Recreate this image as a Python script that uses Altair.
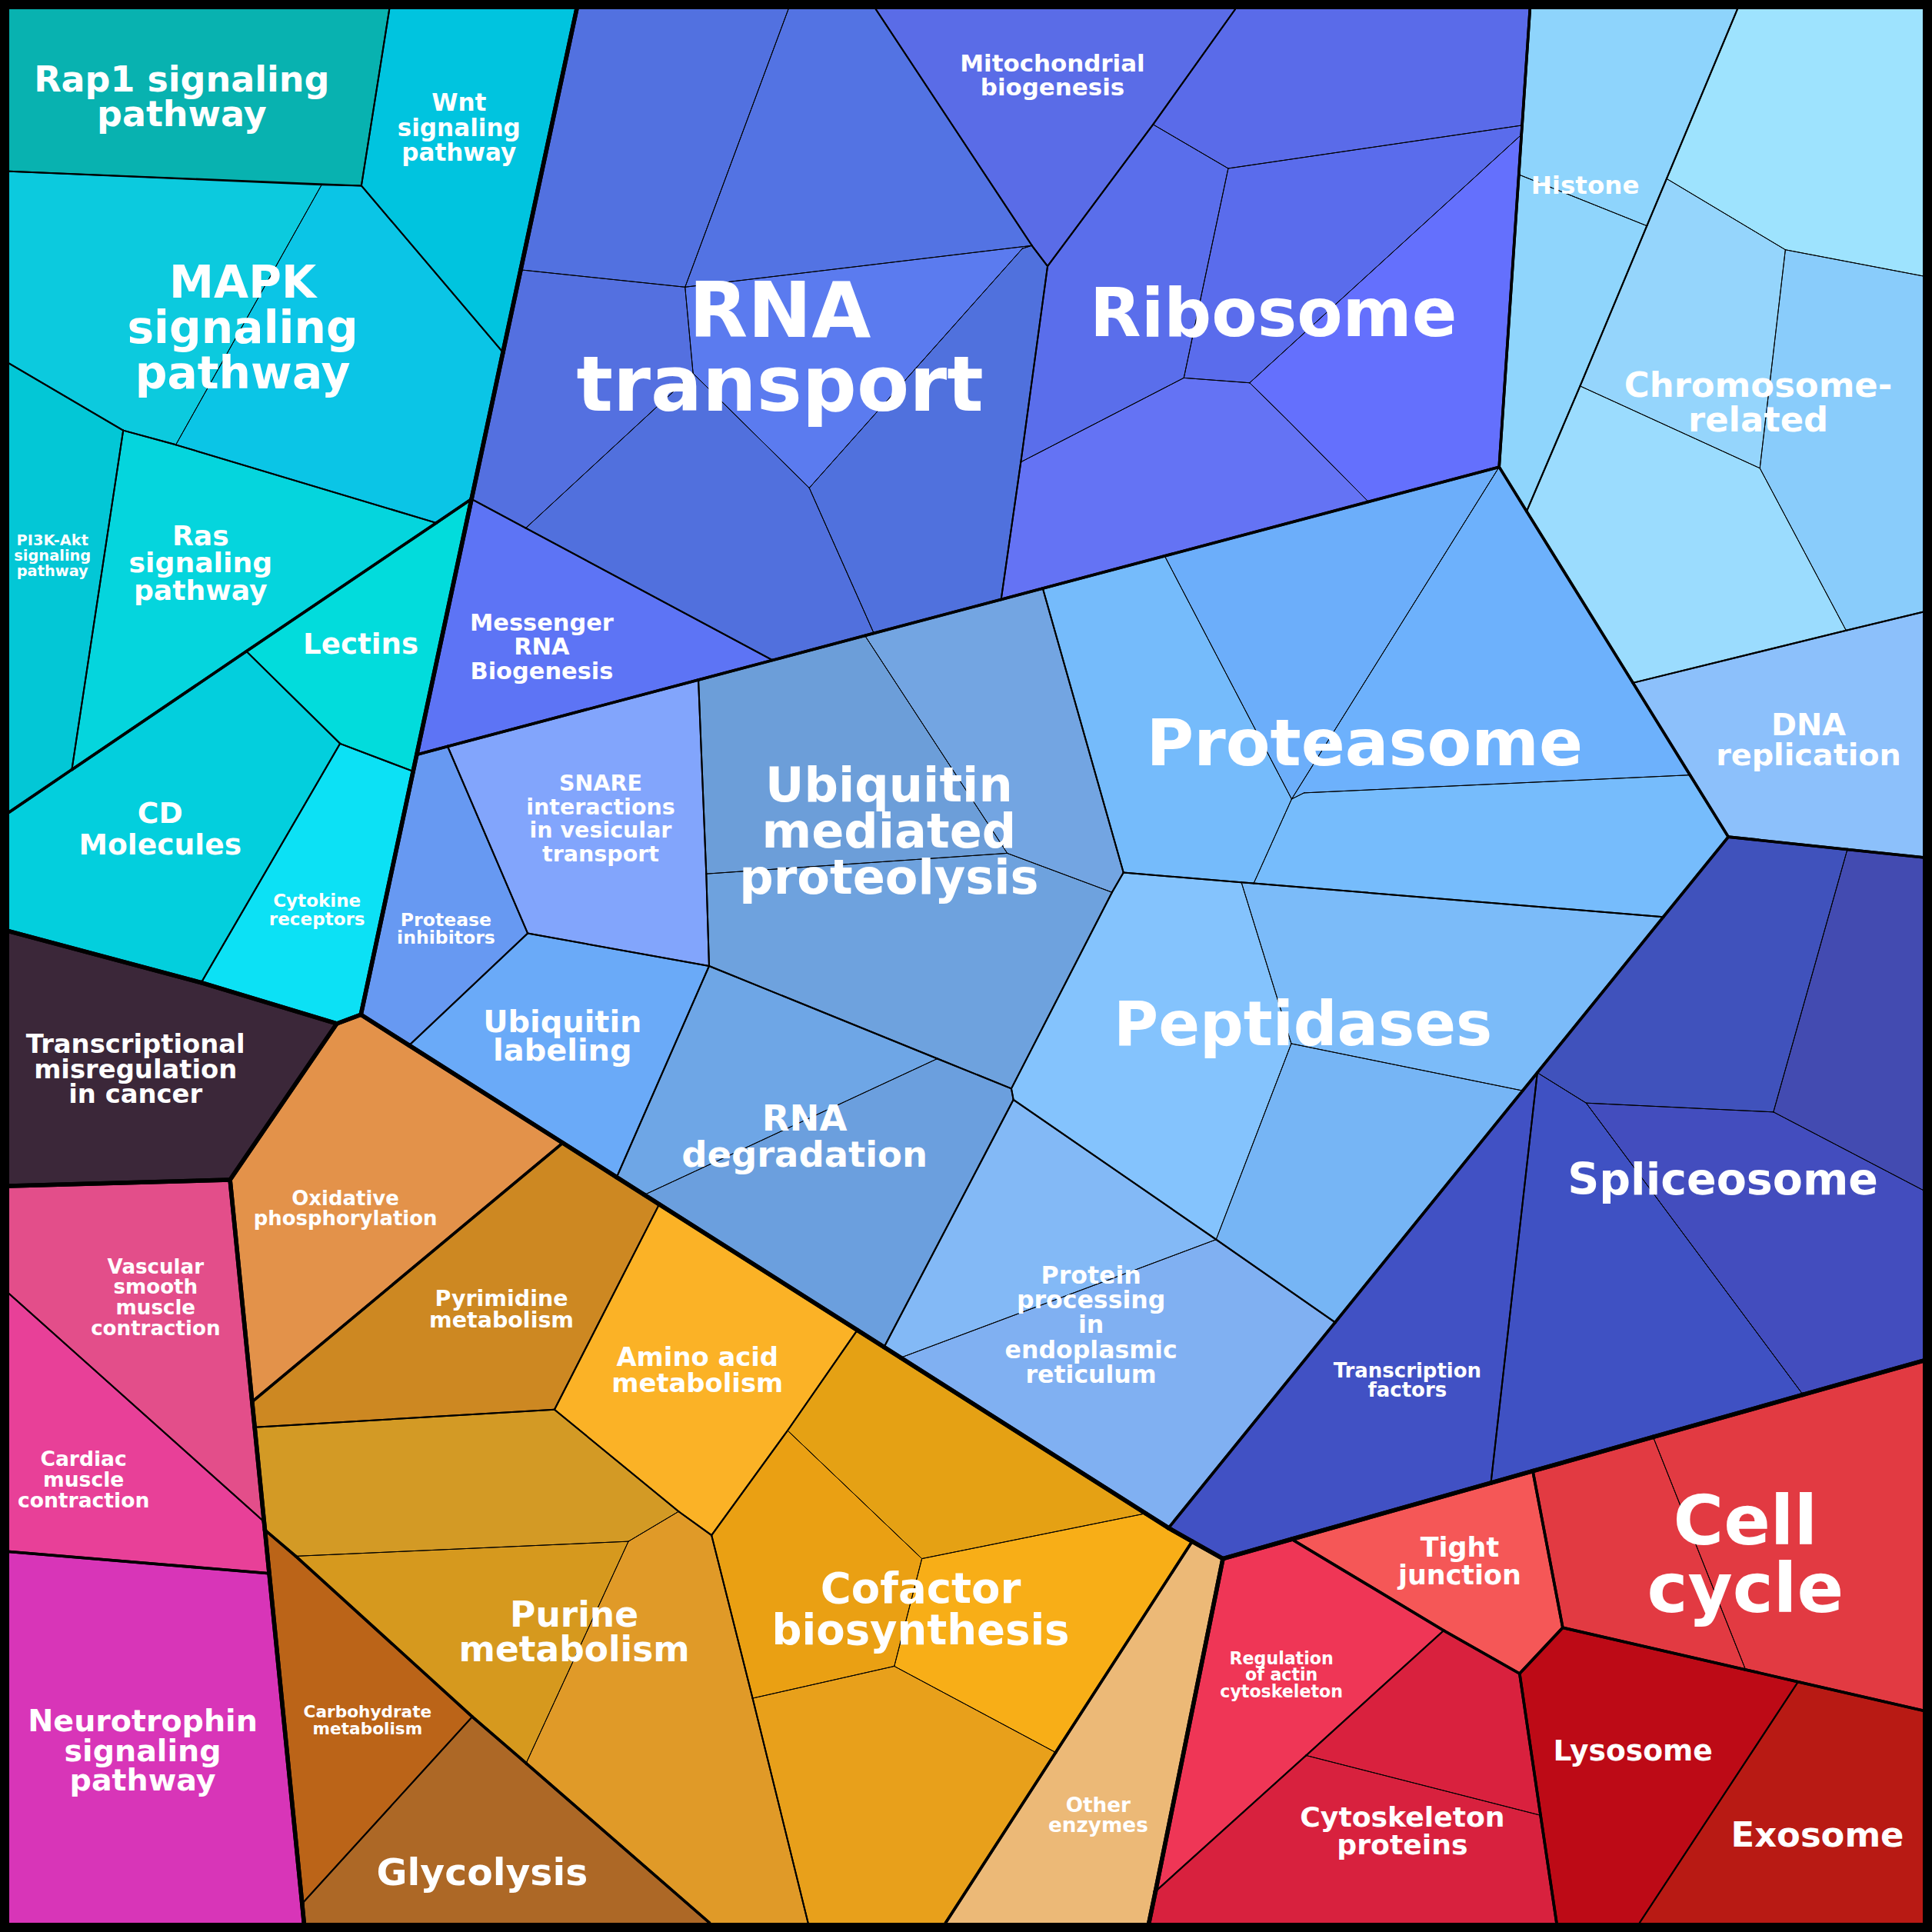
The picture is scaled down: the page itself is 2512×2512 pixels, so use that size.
import math
import altair as alt

SCALE = 2512 / 1568  # drawing units -> screen pixels

# ---------------- hierarchy (top group -> sub group -> pathways) ----------------
HIERARCHY = {
    "Signaling": {
        "Signal transduction": ["Rap1 signaling pathway", "Wnt signaling pathway", "MAPK signaling pathway",
                                "Ras signaling pathway", "PI3K-Akt signaling pathway"],
        "Cell surface": ["Lectins", "CD Molecules", "Cytokine receptors"],
    },
    "Cancer": {"Cancer": ["Transcriptional misregulation in cancer"]},
    "Muscle & neuro": {
        "Muscle": ["Vascular smooth muscle contraction", "Cardiac muscle contraction"],
        "Neuro": ["Neurotrophin signaling pathway"],
    },
    "Metabolism": {
        "Energy": ["Oxidative phosphorylation"],
        "Biosynthesis": ["Pyrimidine metabolism", "Purine metabolism", "Amino acid metabolism",
                         "Cofactor biosynthesis"],
        "Carbohydrates": ["Carbohydrate metabolism", "Glycolysis"],
        "Enzymes": ["Other enzymes"],
    },
    "Genetic information": {
        "Translation": ["RNA transport", "Ribosome", "Mitochondrial biogenesis", "Messenger RNA Biogenesis"],
        "Folding & degradation": ["SNARE interactions in vesicular transport", "Protease inhibitors",
                                  "Ubiquitin labeling", "Ubiquitin mediated proteolysis", "RNA degradation",
                                  "Proteasome", "Peptidases", "Protein processing in endoplasmic reticulum"],
        "Replication": ["Histone", "Chromosome-related", "DNA replication"],
        "Transcription": ["Spliceosome", "Transcription factors"],
    },
    "Cellular processes": {
        "Junction": ["Tight junction"],
        "Cycle": ["Cell cycle"],
        "Vesicles": ["Lysosome", "Exosome"],
        "Cytoskeleton": ["Regulation of actin cytoskeleton", "Cytoskeleton proteins"],
    },
}

# ---------------- cell vertices (drawing units) ----------------
PTS = {
    "TL": (7.5, 7.5), "TR": (1560.5, 7.5), "BL": (7.5, 1560.5), "BR": (1560.5, 1560.5),
    "c1": (316, 7.5), "c2": (468, 7.5), "c3": (293.3, 150.7), "c4": (7.5, 139), "c5": (261, 150),
    "c6": (408.2, 286), "c7": (382.7, 405), "c8": (354, 424.4), "c9": (142.7, 361), "c10": (100, 349.3),
    "c11": (7.5, 295), "c12": (200, 528.6), "c13": (58.3, 624.6), "c14": (7.5, 659.2), "c15": (276, 603.5),
    "c16": (335.3, 626), "c17": (292.9, 823.5), "c18": (273.3, 830.8), "c19": (163.3, 797.5),
    "c20": (7.5, 755.8),
    "d1": (186.7, 957.5), "d2": (7.5, 962.5),
    "m1": (7.5, 1050), "m2": (214.3, 1235), "m3": (218.5, 1277), "m4": (7.5, 1259.3), "m5": (246.7, 1560.5),
    "o1": (456.7, 927.6), "o2": (204.6, 1137.7), "o3": (535, 977.4), "o4": (450, 1144), "o5": (206.7, 1158.3),
    "o6": (695.8, 1079.5), "o7": (639.2, 1161), "o8": (577.5, 1246), "o9": (550.8, 1226.7), "o10": (510, 1251),
    "o11": (240, 1263), "o12": (215, 1241.7), "o13": (383.3, 1393.3), "o14": (427, 1431),
    "o15": (575.8, 1560.5), "o16": (655.8, 1560.5), "o17": (610.8, 1378.3), "o18": (245.2, 1545),
    "o19": (929.8, 1228.3), "o20": (748.2, 1265), "o21": (725.8, 1352.3), "o22": (856.8, 1422.3),
    "o23": (767.5, 1560.5), "o24": (948.4, 1240.1), "o25": (967.5, 1251), "o26": (992.5, 1265),
    "o27": (937.8, 1535), "o28": (932.5, 1560.5),
    "q1": (332, 848.4), "q2": (500.5, 955.4), "q3": (523, 969.7), "q4": (717.5, 1093.3), "q5": (731, 1101.9),
    "b1": (639.8, 7.5), "b2": (710.8, 7.5), "b3": (1002.5, 7.5), "b4": (1241.7, 7.5), "b5": (422.6, 219),
    "b6": (556, 233), "b7": (837.5, 199.3), "b8": (829.8, 201.7), "b9": (850.2, 216), "b10": (935.8, 101),
    "b11": (562.5, 303), "b12": (656.8, 396), "b13": (426.7, 428.6), "b14": (627, 535.8),
    "b15": (709.2, 513.9), "b16": (812.5, 486.5), "b17": (828.5, 375), "b18": (996.8, 136.7),
    "b19": (1235.35, 101.7), "b20": (1234.8, 109.3), "b21": (960.8, 306.7), "b22": (1014.2, 310.7),
    "b23": (1045, 341), "b24": (1110.7, 407.3), "b25": (1216.7, 379), "b26": (338.2, 612.5),
    "p1": (363.3, 605.8), "p2": (566.8, 551.8), "p3": (702, 515.9), "p4": (846.3, 477.5), "p5": (945.2, 451.2),
    "p6": (428.3, 757.5), "p7": (573.2, 709.2), "p8": (575.5, 784), "p9": (817.5, 692.5),
    "p10": (902.5, 724.2), "p11": (911.8, 708.2), "p12": (820.8, 883.5), "p13": (760.8, 859.2),
    "p14": (822.5, 892.5), "p15": (1007.5, 716.1), "p16": (1017.5, 716.9), "p17": (1048, 847),
    "p18": (987, 1006), "p19": (1350, 744.2), "p20": (1235.8, 885.2), "p21": (1083.6, 1073.2),
    "p22": (1048.3, 648.5), "p23": (1058.3, 643.5), "p24": (1371.6, 629), "p25": (1402.7, 679.2),
    "h1": (1410, 7.5), "h2": (1232.7, 141.7), "h3": (1336.6, 183.3), "h4": (1352.6, 145), "h5": (1449, 202.7),
    "h6": (1560.5, 224), "h7": (1282.4, 313.3), "h8": (1428.3, 380), "h9": (1498.3, 511.7),
    "h10": (1560.5, 496.7), "h11": (1239, 415), "h12": (1325.3, 554.2), "h13": (1560.5, 695.8),
    "h14": (1499.3, 689.4),
    "s1": (1247.7, 870.6), "s2": (1287.3, 895.2), "s3": (1439.3, 902.5), "s4": (1560.5, 965.8),
    "s5": (1560.5, 1104.4), "s6": (1463.3, 1131.9), "s7": (1210, 1203.5),
    "r1": (1048.3, 1249.2), "r2": (1244, 1193.9), "r3": (1341.7, 1166.3), "r4": (1268.3, 1321),
    "r5": (1416.7, 1355.1), "r6": (1459.3, 1365), "r7": (1560.5, 1388.3), "r8": (1330.7, 1560.5),
    "r9": (1263.3, 1560.5), "r10": (1233.3, 1358.3), "r11": (1171.7, 1323.3), "r12": (1060, 1424.7),
    "r13": (1250.3, 1473.3),
}

CELL_POINTS = {
    "Rap1": ["TL", "c1", "c3", "c4"],
    "Wnt": ["c1", "c2", "c6", "c3"],
    "MAPK_L": ["c4", "c5", "c9", "c10", "c11"],
    "MAPK_R": ["c5", "c3", "c6", "c7", "c8", "c9"],
    "Ras": ["c10", "c9", "c8", "c12", "c13"],
    "PI3K": ["c11", "c10", "c13", "c14"],
    "Lectins": ["c7", "b26", "c16", "c15", "c12", "c8"],
    "CD": ["c14", "c13", "c12", "c15", "c19", "c20"],
    "Cytokine": ["c15", "c16", "c17", "c18", "c19"],
    "TMC": ["c20", "c19", "c18", "d1", "d2"],
    "Vascular": ["d2", "d1", "m2", "m1"],
    "Cardiac": ["m1", "m2", "o12", "m3", "m4"],
    "Neuro": ["m4", "m3", "o18", "m5", "BL"],
    "Oxid": ["d1", "c18", "c17", "q1", "o1", "o2"],
    "Pyr": ["o1", "o3", "o4", "o5", "o2"],
    "Amino": ["o3", "o6", "o7", "o8", "o9", "o4"],
    "P_top": ["o5", "o4", "o9", "o10", "o11", "o12"],
    "P_ml": ["o11", "o10", "o14", "o13"],
    "P_r": ["o10", "o9", "o8", "o17", "o16", "o15", "o14"],
    "Carb": ["o12", "o11", "o13", "o18", "m3"],
    "Glyc": ["o13", "o14", "o15", "m5", "o18"],
    "C_top": ["o6", "o19", "o20", "o7"],
    "C_ml": ["o8", "o7", "o20", "o21", "o17"],
    "C_right": ["o20", "o19", "o24", "o25", "o22", "o21"],
    "C_bot": ["o17", "o21", "o22", "o23", "o16"],
    "Other": ["o25", "o26", "o27", "o28", "o23", "o22"],
    "R_a": ["c2", "b1", "b6", "b5"],
    "R_b": ["b1", "b2", "b7", "b6"],
    "R_c": ["b6", "b7", "b8", "b12", "b11"],
    "R_d": ["b7", "b9", "b17", "b16", "b15", "b12", "b8"],
    "R_e": ["b11", "b12", "b15", "b14", "b13"],
    "R_f": ["b5", "b6", "b11", "b13", "c7", "c6"],
    "MRB": ["c7", "b13", "b14", "p2", "p1", "b26"],
    "Mito": ["b2", "b3", "b10", "b9", "b7"],
    "Rb_a": ["b3", "b4", "b19", "b18", "b10"],
    "Rb_b": ["b18", "b19", "b20", "b22", "b21"],
    "Rb_c": ["b9", "b10", "b18", "b21", "b17"],
    "Rb_d": ["b22", "b20", "b25", "b24", "b23"],
    "Rb_e": ["b17", "b21", "b22", "b23", "b24", "b16"],
    "PI": ["b26", "p1", "p6", "q1", "c17"],
    "SNARE": ["p1", "p2", "p7", "p8", "p6"],
    "UL": ["p6", "p8", "q2", "q1"],
    "UM_top": ["p2", "p3", "p9", "p7"],
    "UM_right": ["p3", "p4", "p11", "p10", "p9"],
    "UM_bot": ["p7", "p9", "p10", "p12", "p13", "p8"],
    "RD_a": ["p8", "p13", "q3", "q2"],
    "RD_b": ["p13", "p12", "p14", "q4", "q3"],
    "Pe_a": ["p11", "p15", "p17", "p18", "p14", "p12", "p10"],
    "Pe_b": ["p17", "p20", "p21", "p18"],
    "Pe_c": ["p15", "p16", "p19", "p20", "p17"],
    "Pr_a": ["p4", "p5", "p22", "p16", "p15", "p11"],
    "Pr_b": ["p5", "b25", "p22"],
    "Pr_c": ["b25", "h11", "h12", "p24", "p23", "p22"],
    "Pr_d": ["p22", "p23", "p24", "p25", "p19", "p16"],
    "PP_a": ["p14", "p18", "q5", "q4"],
    "PP_b": ["p18", "p21", "o24", "q5"],
    "H_top": ["b4", "h1", "h4", "h3", "h2", "b20", "b19"],
    "H_bot": ["h2", "h3", "h7", "h11", "b25"],
    "Ch_a": ["h1", "TR", "h6", "h5", "h4"],
    "Ch_b": ["h4", "h5", "h8", "h7", "h3"],
    "Ch_c": ["h5", "h6", "h10", "h9", "h8"],
    "Ch_d": ["h7", "h8", "h9", "h12", "h11"],
    "DNA": ["h12", "h9", "h10", "h13", "h14", "p25"],
    "Sp_a": ["p25", "h14", "s3", "s2", "s1", "p19"],
    "Sp_b": ["h14", "h13", "s4", "s3"],
    "Sp_c": ["s2", "s3", "s4", "s5", "s6"],
    "Sp_d": ["s1", "s2", "s6", "r3", "r2", "s7"],
    "TF": ["o24", "p21", "p20", "s1", "s7", "r1", "o26", "o25"],
    "Tight": ["r1", "r2", "r4", "r10", "r11"],
    "CC_a": ["r2", "r3", "r5", "r4"],
    "CC_b": ["r3", "s6", "s5", "r7", "r6", "r5"],
    "Lyso": ["r10", "r4", "r5", "r6", "r8", "r9", "r13"],
    "Exo": ["r6", "r7", "BR", "r8"],
    "RA": ["o26", "r1", "r11", "r12", "o27"],
    "CP_a": ["r11", "r10", "r13", "r12"],
    "CP_b": ["r12", "r13", "r9", "o28", "o27"],
}

CELL_PATHWAY = {
    "Rap1": "Rap1 signaling pathway", "Wnt": "Wnt signaling pathway",
    "MAPK_L": "MAPK signaling pathway", "MAPK_R": "MAPK signaling pathway",
    "Ras": "Ras signaling pathway", "PI3K": "PI3K-Akt signaling pathway",
    "Lectins": "Lectins", "CD": "CD Molecules", "Cytokine": "Cytokine receptors",
    "TMC": "Transcriptional misregulation in cancer",
    "Vascular": "Vascular smooth muscle contraction", "Cardiac": "Cardiac muscle contraction",
    "Neuro": "Neurotrophin signaling pathway",
    "Oxid": "Oxidative phosphorylation", "Pyr": "Pyrimidine metabolism", "Amino": "Amino acid metabolism",
    "P_top": "Purine metabolism", "P_ml": "Purine metabolism", "P_r": "Purine metabolism",
    "Carb": "Carbohydrate metabolism", "Glyc": "Glycolysis",
    "C_top": "Cofactor biosynthesis", "C_ml": "Cofactor biosynthesis", "C_right": "Cofactor biosynthesis",
    "C_bot": "Cofactor biosynthesis", "Other": "Other enzymes",
    "R_a": "RNA transport", "R_b": "RNA transport", "R_c": "RNA transport", "R_d": "RNA transport",
    "R_e": "RNA transport", "R_f": "RNA transport", "MRB": "Messenger RNA Biogenesis",
    "Mito": "Mitochondrial biogenesis",
    "Rb_a": "Ribosome", "Rb_b": "Ribosome", "Rb_c": "Ribosome", "Rb_d": "Ribosome", "Rb_e": "Ribosome",
    "PI": "Protease inhibitors", "SNARE": "SNARE interactions in vesicular transport",
    "UL": "Ubiquitin labeling",
    "UM_top": "Ubiquitin mediated proteolysis", "UM_right": "Ubiquitin mediated proteolysis",
    "UM_bot": "Ubiquitin mediated proteolysis",
    "RD_a": "RNA degradation", "RD_b": "RNA degradation",
    "Pe_a": "Peptidases", "Pe_b": "Peptidases", "Pe_c": "Peptidases",
    "Pr_a": "Proteasome", "Pr_b": "Proteasome", "Pr_c": "Proteasome", "Pr_d": "Proteasome",
    "PP_a": "Protein processing in endoplasmic reticulum", "PP_b": "Protein processing in endoplasmic reticulum",
    "H_top": "Histone", "H_bot": "Histone",
    "Ch_a": "Chromosome-related", "Ch_b": "Chromosome-related", "Ch_c": "Chromosome-related",
    "Ch_d": "Chromosome-related", "DNA": "DNA replication",
    "Sp_a": "Spliceosome", "Sp_b": "Spliceosome", "Sp_c": "Spliceosome", "Sp_d": "Spliceosome",
    "TF": "Transcription factors",
    "Tight": "Tight junction", "CC_a": "Cell cycle", "CC_b": "Cell cycle",
    "Lyso": "Lysosome", "Exo": "Exosome",
    "RA": "Regulation of actin cytoskeleton", "CP_a": "Cytoskeleton proteins", "CP_b": "Cytoskeleton proteins",
}

# ---------------- styles ----------------
CELL_FILL = {
    "Rap1": "#08b2b0", "Wnt": "#00c4df", "MAPK_L": "#0ccade", "MAPK_R": "#0bc5e6", "Ras": "#05d5dd",
    "PI3K": "#03c7d6", "Lectins": "#02dcdc", "CD": "#03cfdd", "Cytokine": "#0ce1f5", "TMC": "#3b2739",
    "Vascular": "#e34e8a", "Cardiac": "#e84098", "Neuro": "#d835b8",
    "Oxid": "#e3924a", "Pyr": "#cd8822", "Amino": "#fbb226", "P_top": "#d39a25", "P_ml": "#d6991e",
    "P_r": "#e09a28", "Carb": "#bb6418", "Glyc": "#ad6826", "C_top": "#e5a114", "C_ml": "#eaa013",
    "C_right": "#f8ae17", "C_bot": "#e8a01b", "Other": "#ecb977",
    "R_a": "#5271e0", "R_b": "#5373e3", "R_c": "#5b7bef", "R_d": "#5071dd", "R_e": "#5170dd",
    "R_f": "#5470e0", "MRB": "#5d74f5", "Mito": "#5a6ce7", "Rb_a": "#5a6be9", "Rb_b": "#5a6cec",
    "Rb_c": "#5a6eeb", "Rb_d": "#6470fd", "Rb_e": "#6473f4",
    "PI": "#6799f2", "SNARE": "#82a5fc", "UL": "#6aaaf8", "UM_top": "#6c9ed9", "UM_right": "#73a5e2",
    "UM_bot": "#6ea2de", "RD_a": "#6ea6e6", "RD_b": "#6b9fde", "Pe_a": "#84c3fd", "Pe_b": "#76b5f5",
    "Pe_c": "#7bbbf9", "Pr_a": "#75bbfb", "Pr_b": "#6caefa", "Pr_c": "#6db1fc", "Pr_d": "#76bcfc",
    "PP_a": "#83b9f6", "PP_b": "#80b0f2",
    "H_top": "#8ed4fc", "H_bot": "#8fd5fc", "Ch_a": "#9ee3fe", "Ch_b": "#95d5fc", "Ch_c": "#89ccfb",
    "Ch_d": "#9bdcfe", "DNA": "#8cc0fb",
    "Sp_a": "#4052bc", "Sp_b": "#434bb1", "Sp_c": "#434dbe", "Sp_d": "#3f51c3", "TF": "#4151c4",
    "Tight": "#f55757", "CC_a": "#e23a42", "CC_b": "#e23a42", "Lyso": "#bd0a16", "Exo": "#b81a14",
    "RA": "#ef3656", "CP_a": "#d9213e", "CP_b": "#d8213e",
}

BORDER_WIDTH = [5.5, 3.6, 2.0, 1.0]  # top group, sub group, pathway, same pathway

# label layout: text lines, centre x, first baseline y, font size, line spacing (drawing units)
LABELS = [
    ("Rap1 signaling|pathway", 147.5, 74, 28.7, 28.3),
    ("Wnt|signaling|pathway", 372.5, 90, 19.4, 20.3),
    ("MAPK|signaling|pathway", 197, 241.7, 36.4, 36.7),
    ("PI3K-Akt|signaling|pathway", 42.6, 442.8, 12.1, 12.5),
    ("Ras|signaling|pathway", 162.8, 442.7, 22.6, 22),
    ("Lectins", 292.8, 530.8, 23.2, 0),
    ("CD|Molecules", 130, 668.2, 23.5, 25),
    ("Cytokine|receptors", 257.3, 736.2, 14.4, 15),
    ("Transcriptional|misregulation|in cancer", 110, 854.8, 21.1, 20.2),
    ("Vascular|smooth|muscle|contraction", 126.3, 1033.5, 16.3, 16.7),
    ("Cardiac|muscle|contraction", 67.8, 1190, 16.6, 16.7),
    ("Neurotrophin|signaling|pathway", 115.8, 1405, 24.7, 24.2),
    ("Oxidative|phosphorylation", 280.3, 978.2, 16.2, 16),
    ("Pyrimidine|metabolism", 407, 1060, 17.8, 17.3),
    ("Amino acid|metabolism", 566, 1108.3, 21.1, 21.7),
    ("Purine|metabolism", 466, 1320, 28.4, 28.3),
    ("Carbohydrate|metabolism", 298.3, 1394, 13.5, 13.7),
    ("Glycolysis", 391.3, 1530, 30.5, 0),
    ("Cofactor|biosynthesis", 747.2, 1301, 34, 33.3),
    ("Other|enzymes", 891.3, 1470.7, 16.4, 16),
    ("Messenger|RNA|Biogenesis", 439.7, 511.7, 19, 19.6),
    ("RNA|transport", 633, 273.3, 62, 60),
    ("Ribosome", 1033.5, 272.7, 54, 0),
    ("Mitochondrial|biogenesis", 854.2, 58.3, 19.3, 19),
    ("Histone", 1286.5, 157.3, 20.3, 0),
    ("Chromosome-|related", 1427, 322.3, 28, 27.7),
    ("DNA|replication", 1467.8, 596.5, 24.8, 24.3),
    ("SNARE|interactions|in vesicular|transport", 487.5, 641.8, 17.8, 19),
    ("Protease|inhibitors", 362, 751.5, 14.7, 14.3),
    ("Ubiquitin|labeling", 456.5, 837.5, 24.9, 23.3),
    ("Ubiquitin|mediated|proteolysis", 721.5, 650.2, 38.8, 37.5),
    ("RNA|degradation", 653, 917.5, 29, 29.3),
    ("Proteasome", 1107.5, 620.8, 52.5, 0),
    ("Peptidases", 1057.5, 848.5, 49.5, 0),
    ("Protein|processing|in|endoplasmic|reticulum", 885.5, 1041.5, 19.7, 20.2),
    ("Spliceosome", 1398.3, 969.2, 35.6, 0),
    ("Transcription|factors", 1142.2, 1117.7, 16.2, 15.7),
    ("Tight|junction", 1184.7, 1263.3, 21.8, 22.3),
    ("Cell|cycle", 1416.5, 1253.3, 55.8, 55),
    ("Regulation|of actin|cytoskeleton", 1040, 1350.7, 13.8, 13.4),
    ("Cytoskeleton|proteins", 1138.2, 1482.3, 22.6, 22.7),
    ("Lysosome", 1325.3, 1429, 23.5, 0),
    ("Exosome", 1475, 1499, 28, 0),
]

# ---------------- build geometry ----------------
PATH_GROUP = {}
for top, subs in HIERARCHY.items():
    for sub, paths in subs.items():
        for p in paths:
            PATH_GROUP[p] = (top, sub)

POLYS = {c: [PTS[n] for n in names] for c, names in CELL_POINTS.items()}


def inside(pt, poly):
    x, y = pt
    res = False
    n = len(poly)
    for i in range(n):
        x1, y1 = poly[i]
        x2, y2 = poly[(i + 1) % n]
        if (y1 > y) != (y2 > y):
            xi = x1 + (y - y1) * (x2 - x1) / (y2 - y1)
            if x < xi:
                res = not res
    return res


def level(a, b):
    pa, pb = CELL_PATHWAY[a], CELL_PATHWAY[b]
    if pa == pb:
        return 3
    ta, sa = PATH_GROUP[pa]
    tb, sb = PATH_GROUP[pb]
    if ta != tb:
        return 0
    if sa != sb:
        return 1
    return 2


cell_features = []
edge_features = []
for c, poly in POLYS.items():
    ring = [list(p) for p in poly] + [list(poly[0])]
    cell_features.append({
        "type": "Feature",
        "properties": {"cell": c, "pathway": CELL_PATHWAY[c], "fill": CELL_FILL[c]},
        "geometry": {"type": "Polygon", "coordinates": [ring]},
    })
    area = 0.0
    n = len(poly)
    for i in range(n):
        x1, y1 = poly[i]
        x2, y2 = poly[(i + 1) % n]
        area += x1 * y2 - x2 * y1
    for i in range(n):
        p, q = poly[i], poly[(i + 1) % n]
        dx, dy = q[0] - p[0], q[1] - p[1]
        ln = math.hypot(dx, dy)
        if ln == 0:
            continue
        if area > 0:
            nx, ny = dy / ln, -dx / ln
        else:
            nx, ny = -dy / ln, dx / ln
        mx, my = (p[0] + q[0]) / 2 + 1.2 * nx, (p[1] + q[1]) / 2 + 1.2 * ny
        nb = None
        for c2, poly2 in POLYS.items():
            if c2 != c and inside((mx, my), poly2):
                nb = c2
                break
        if nb is None:
            continue  # lies on the outer frame
        w = BORDER_WIDTH[level(c, nb)]
        edge_features.append({
            "type": "Feature",
            "properties": {"w": w},
            "geometry": {"type": "LineString", "coordinates": [list(p), list(q)]},
        })
edge_features.sort(key=lambda f: f["properties"]["w"])

proj = dict(type="identity", scale=SCALE, translate=[0, 0])

cells = alt.Chart(alt.Data(values=cell_features)).mark_geoshape(strokeWidth=0).encode(
    fill=alt.Fill("properties.fill:N", scale=None)
).project(**proj)

edges = alt.Chart(alt.Data(values=edge_features)).mark_geoshape(
    filled=False, stroke="black", strokeCap="round", strokeJoin="round"
).encode(
    strokeWidth=alt.StrokeWidth("properties.w:Q", scale=None)
).project(**proj)

# one multi-line text mark per label
label_layers = []
for text, x, y0, fs, sp in LABELS:
    lh = (sp if sp else fs) * SCALE
    label_layers.append(
        alt.Chart(alt.Data(values=[{"lon": x, "lat": y0, "label": text}])).mark_text(
            font="DejaVu Sans", fontWeight="bold", align="center", baseline="alphabetic",
            color="white", fontSize=fs * SCALE, lineBreak="|", lineHeight=lh,
        ).encode(
            longitude="lon:Q", latitude="lat:Q", text="label:N",
        ).project(**proj)
    )

chart = alt.layer(cells, edges, *label_layers).properties(
    width=2512, height=2512, background="#000000", padding=0
).configure_view(strokeWidth=0)

chart.save("out.html", embed_options={"renderer": "svg", "actions": False})
